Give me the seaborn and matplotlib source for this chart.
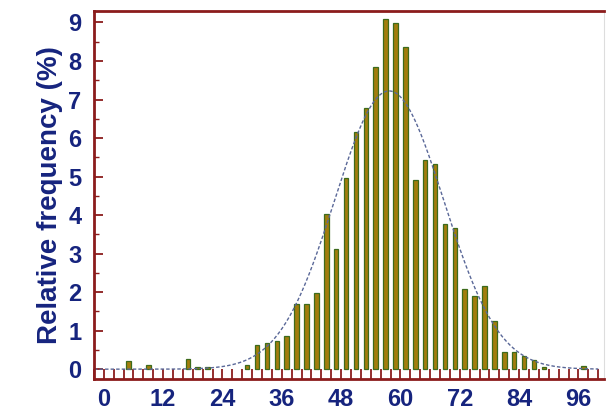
import numpy as np
import pandas as pd
import matplotlib
matplotlib.use("Agg")
import matplotlib.pyplot as plt
import seaborn as sns

# bin centres (bin width 2) and relative frequency in %
bin_centres = list(range(1, 100, 2))
rel_freq = [0, 0, 0.22, 0, 0.12, 0, 0, 0, 0.26, 0.06,
            0.06, 0, 0, 0, 0.12, 0.62, 0.68, 0.74, 0.87, 1.68,
            1.68, 1.97, 4.03, 3.12, 4.95, 6.15, 6.77, 7.85, 9.08, 8.98,
            8.36, 4.90, 5.43, 5.32, 3.78, 3.67, 2.08, 1.91, 2.16, 1.25,
            0.45, 0.45, 0.34, 0.23, 0.06, 0, 0, 0, 0.07, 0]
x_ticks = [0, 12, 24, 36, 48, 60, 72, 84, 96]
y_ticks = [0, 1, 2, 3, 4, 5, 6, 7, 8, 9]

df = pd.DataFrame({"x": bin_centres, "freq": rel_freq})

# normal fit from the histogram itself
w = df["freq"] / df["freq"].sum()
mu = (df["x"] * w).sum()
sd = np.sqrt(((df["x"] - mu) ** 2 * w).sum())
xs = np.linspace(-2, 100, 400)
fit = pd.DataFrame({"x": xs,
                    "y": 100 * 2 / (sd * np.sqrt(2 * np.pi)) * np.exp(-(xs - mu) ** 2 / (2 * sd ** 2))})

sns.set_style("white")
plt.rcParams["font.family"] = ["Liberation Sans", "DejaVu Sans"]

navy = "#16247e"
red = "#8b1c1c"

fig = plt.figure(figsize=(6.06, 4.19), dpi=100)
ax = fig.add_axes([0.155, 0.095, 0.842, 0.879])

bars = df[df["freq"] > 0]
sns.barplot(data=bars, x="x", y="freq", native_scale=True, width=0.46,
            color="#a27d0c", edgecolor="#3d6b1c", linewidth=0.9,
            saturation=1, ax=ax)
sns.lineplot(data=fit, x="x", y="y", color="#5a6898", linewidth=1.0,
             linestyle=(0, (2.5, 1.5)), ax=ax)

ax.set_xlim(-2, 101.2)
ax.set_ylim(-0.26, 9.3)
ax.set_xticks(x_ticks)
ax.set_xticks(np.arange(-2, 101, 2), minor=True)
ax.set_yticks(y_ticks)
ax.set_yticks(np.arange(0.5, 9.3, 1), minor=True)
ax.set_xticklabels([str(t) for t in x_ticks])

ax.tick_params(axis="x", which="both", bottom=True, direction="in", length=7.5,
               width=1.3, color=red, labelsize=17, labelcolor=navy, pad=6)
ax.tick_params(axis="y", which="major", left=True, direction="in", length=6.5,
               width=1.3, color=red, labelsize=17, labelcolor=navy, pad=9)
ax.tick_params(axis="y", which="minor", left=True, direction="in", length=3.5,
               width=1.0, color=red)
ax.tick_params(top=False, right=False, which="both")
for lab in ax.get_xticklabels() + ax.get_yticklabels():
    lab.set_fontweight("bold")

for side in ["left", "bottom", "top"]:
    ax.spines[side].set_color(red)
    ax.spines[side].set_linewidth(2)
ax.spines["right"].set_color("#dddddd")
ax.spines["right"].set_linewidth(0.8)

ax.set_xlabel("")
ax.set_ylabel("Relative frequency (%)", fontsize=20, fontweight="bold",
              color=navy, labelpad=4)

fig.savefig("out.png", dpi=100)
